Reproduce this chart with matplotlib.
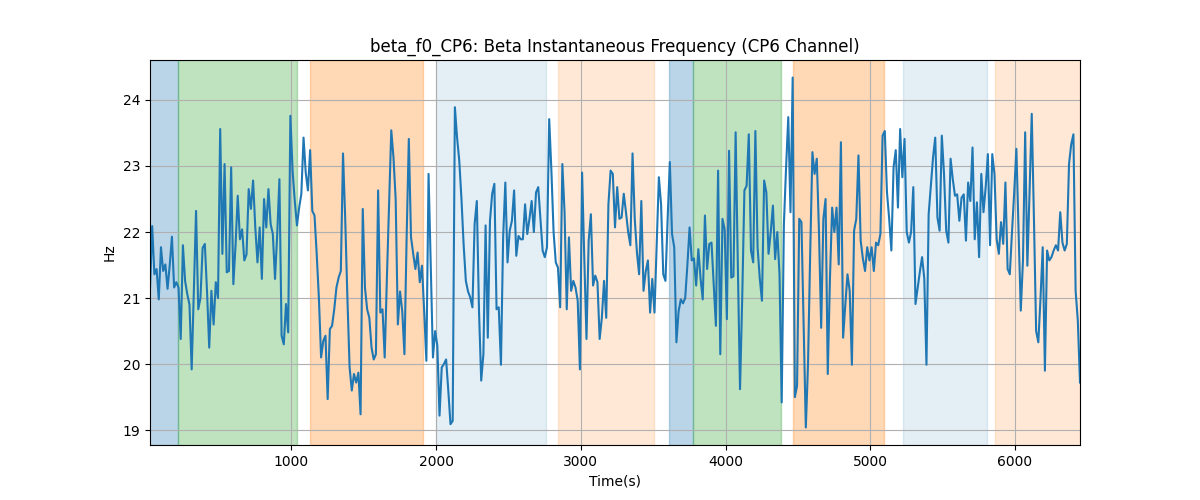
import numpy as np
import matplotlib
matplotlib.use("Agg")
import matplotlib.pyplot as plt

# beta instantaneous frequency (Hz) in left-to-right chunks
seg1 = [21.14, 22.09, 21.36, 21.44, 20.98, 21.77, 21.41, 21.51, 21.14, 21.5, 21.93, 21.16,
        21.24, 21.16, 20.38, 21.80, 21.26, 21.06, 20.9, 19.92, 21.1, 22.32, 20.83, 21.0,
        21.76, 21.82, 21.1, 20.25, 21.11, 20.6, 21.24, 21.0, 23.56, 21.67]
seg2 = [23.03, 21.39, 21.41, 22.98, 21.21, 21.8, 22.55, 21.89, 22.04, 21.57, 21.66, 22.65,
        22.35, 22.78, 22.07, 21.54, 22.07, 21.29, 22.5, 22.07, 22.65, 22.12, 21.97, 21.29,
        21.97, 22.80, 20.43, 20.3, 20.91, 20.48, 23.76, 22.93, 22.47, 22.1]
seg3 = [22.37, 22.58, 23.43, 22.9, 22.63, 23.24, 22.32, 22.25, 21.67, 21.0, 20.1, 20.35,
        20.43, 19.47, 20.53, 20.58, 20.83, 21.16, 21.31, 21.41, 23.19, 22.2, 21.0, 19.95,
        19.6, 19.85, 19.72, 19.87, 19.24, 22.35, 21.16, 20.83, 20.7, 20.25, 20.07, 20.15]
seg4 = [22.63, 20.78, 20.83, 20.1, 21.3, 22.4, 23.54, 23.13, 22.5, 20.6, 21.1, 20.8,
        20.15, 21.92, 23.41, 21.92, 21.67, 21.44, 21.69, 21.24, 21.49, 20.8, 20.05, 22.88,
        21.5, 20.1, 20.5, 20.28, 19.22, 19.95, 20.0, 20.07, 19.6, 19.09, 19.14]
seg5 = [23.89, 23.43, 23.08, 22.5, 21.8, 21.26, 21.1, 21.01, 20.86, 22.12, 22.47, 20.8,
        19.75, 20.15, 22.1, 20.4, 22.17, 22.58, 22.73, 20.83, 20.86, 19.99, 21.92, 22.75,
        21.54, 22.02, 22.17, 22.63, 21.64, 21.94, 21.89, 21.89, 22.42, 21.97, 22.2, 22.47]
seg6 = [22.0, 22.6, 22.68, 22.2, 21.72, 21.62, 21.77, 23.71, 22.93, 22.0, 21.54, 21.46,
        20.86, 23.03, 22.3, 20.83, 21.92, 21.11, 21.26, 21.16, 20.96, 19.92, 22.9, 21.6,
        20.38, 21.87, 22.27, 21.19, 21.34, 21.24, 20.38, 20.7, 21.26, 20.7, 22.42, 22.93]
seg7 = [22.88, 22.07, 22.68, 22.2, 22.22, 22.58, 22.3, 22.0, 21.8, 23.19, 22.2, 21.69,
        21.36, 22.47, 21.11, 21.4, 21.57, 20.78, 21.29, 20.78, 21.8, 22.83, 22.42, 21.36,
        21.26, 22.2, 23.06, 21.97, 21.77, 20.33, 20.8, 20.98, 20.92, 21.0, 21.5, 22.07]
seg8 = [21.57, 21.6, 21.19, 21.74, 21.3, 20.98, 22.25, 21.44, 21.82, 21.84, 21.2, 20.58,
        22.93, 20.15, 22.2, 22.04, 20.68, 23.23, 21.31, 21.33, 23.51, 21.5, 19.62, 21.0,
        22.63, 22.7, 23.48, 21.72, 21.54, 23.53, 21.77, 21.3, 20.96, 22.78, 22.6, 21.67]
seg9 = [22.0, 22.4, 21.59, 22.0, 21.36, 19.42, 22.12, 22.98, 23.74, 22.3, 24.34, 19.5,
        19.67, 22.2, 22.15, 20.6, 19.04, 20.0, 21.7, 23.21, 22.88, 23.11, 22.0, 20.55,
        22.2, 22.5, 19.85, 21.3, 22.37, 22.0, 22.37, 21.51, 23.36, 20.4, 20.9, 21.36]
seg10 = [21.11, 19.99, 22.02, 22.2, 23.16, 21.87, 21.6, 21.41, 21.77, 21.57, 21.77, 21.41,
         21.84, 21.8, 21.97, 23.46, 23.53, 22.6, 22.2, 21.72, 22.98, 23.24, 22.37, 23.56,
         22.83, 23.41, 22.0, 21.84, 22.0, 22.68, 20.91, 21.16, 21.4, 21.62, 21.3, 19.99]
seg11 = [22.27, 22.7, 23.13, 23.43, 22.22, 22.02, 23.46, 22.88, 22.02, 21.84, 23.11, 22.8,
         22.55, 22.57, 22.17, 22.52, 22.57, 21.87, 22.75, 22.47, 23.28, 21.89, 22.45, 21.62,
         22.88, 22.3, 22.68, 23.18, 21.8, 23.18, 22.88, 21.89, 21.67, 22.15, 21.82, 22.75]
seg12 = [21.44, 21.36, 22.0, 22.6, 23.26, 22.0, 20.81, 21.57, 23.51, 21.49, 22.6, 23.79,
         22.2, 20.5, 20.33, 21.0, 21.77, 19.9, 21.72, 21.57, 21.62, 21.72, 21.8, 21.72,
         22.3, 21.84, 21.72, 21.82, 23.03, 23.33, 23.48, 21.11, 20.66, 19.72]

t_start, t_end = 22, 6450

# shaded periods: (start, end, color, alpha)
spans = [
    (18, 218, "tab:blue", 0.3),
    (218, 1035, "tab:green", 0.3),
    (1131, 1906, "tab:orange", 0.3),
    (1996, 2757, "tab:blue", 0.12),
    (2843, 3507, "tab:orange", 0.17),
    (3607, 3773, "tab:blue", 0.3),
    (3773, 4382, "tab:green", 0.3),
    (4465, 5094, "tab:orange", 0.3),
    (5226, 5807, "tab:blue", 0.12),
    (5865, 6450, "tab:orange", 0.17),
]

freq = np.concatenate([seg1, seg2, seg3, seg4, seg5, seg6, seg7, seg8, seg9, seg10, seg11, seg12])
t = np.linspace(t_start, t_end, len(freq))

fig, ax = plt.subplots(figsize=(12, 5), dpi=100)

for s, e, c, a in spans:
    ax.axvspan(s, e, color=c, alpha=a)

ax.plot(t, freq, color="tab:blue", linewidth=1.5)

ax.set_xlim(t[0], t[-1])
ax.set_title("beta_f0_CP6: Beta Instantaneous Frequency (CP6 Channel)")
ax.set_xlabel("Time(s)")
ax.set_ylabel("Hz")
ax.grid(True)

fig.savefig("out.png")
